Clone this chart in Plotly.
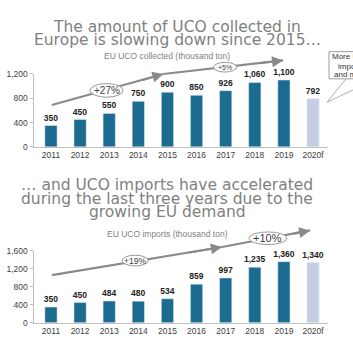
import plotly.graph_objects as go

years = ["2011", "2012", "2013", "2014", "2015", "2016", "2017", "2018", "2019", "2020f"]
collected = [350, 450, 550, 750, 900, 850, 926, 1060, 1100, 792]
imports = [350, 450, 484, 480, 534, 859, 997, 1235, 1360, 1340]
forecast = [False] * 9 + [True]

top_title = ["The amount of UCO collected in", "Europe is slowing down since 2015\u2026"]
bot_title = ["\u2026 and UCO imports have accelerated", "during the last three years due to the", "growing EU demand"]
top_sub = "EU UCO collected (thousand ton)"
bot_sub = "EU UCO imports (thousand ton)"
callout_lines = ["More UCO", "imports", "and more"]

# trend arrows in data units: (start_idx, start_val, end_idx, end_val)
top_arrows = [(0.03, 690, 3.86, 1200), (3.86, 1200, 7.97, 1424)]
bot_arrows = [(0.03, 1060, 5.87, 1686), (5.87, 1686, 8.9, 2054)]
# growth labels: (text, idx, val, half-width px, half-height px, font size)
top_growth = [("+27%", 1.91, 930, 16.5, 7, 10), ("+5%", 5.98, 1312, 11.5, 5, 7)]
bot_growth = [("+19%", 2.89, 1384, 13, 5.5, 8.5), ("+10%", 7.45, 1880, 19, 6.5, 11)]

W, H = 353, 354
def px(x):
    return x / W
def py(y):
    return 1 - y / H

MAIN = "#1c6b91"
FORE = "#c3cee2"
GRAY = "#7f7f7f"
FONT = "Liberation Sans, Arial, sans-serif"
TFONT = "DejaVu Sans, sans-serif"
idx = list(range(len(years)))
colors = [FORE if f else MAIN for f in forecast]

XR = [-0.6, 9.5]
xdom = [33.5 / W, 327.6 / W]
top_ydom, top_yr = [py(146), py(71)], 1200
bot_ydom, bot_yr = [py(327), py(253)], 1600

def to_paper(i, v, ydom, yr):
    x = xdom[0] + (i - XR[0]) / (XR[1] - XR[0]) * (xdom[1] - xdom[0])
    y = ydom[0] + v / yr * (ydom[1] - ydom[0])
    return x, y

fig = go.Figure()
for vals, xa, ya in [(collected, "x", "y"), (imports, "x2", "y2")]:
    fig.add_trace(go.Bar(x=idx, y=vals, marker_color=colors, width=0.42,
                         text=[f"{v:,}" for v in vals], textposition="outside",
                         textfont=dict(size=8.5, color="#222", family=FONT, weight="bold"),
                         cliponaxis=False, constraintext="none", xaxis=xa, yaxis=ya,
                         showlegend=False, hoverinfo="skip"))

xcommon = dict(range=XR, tickvals=idx, ticktext=years, showline=True,
               linecolor="#bfbfbf", linewidth=1, ticks="", showgrid=False, zeroline=False,
               tickfont=dict(size=8.5, color="#404040", family=FONT), fixedrange=True)
ycommon = dict(showline=True, linecolor="#bfbfbf", linewidth=1, ticks="outside", ticklen=3,
               tickcolor="#bfbfbf", showgrid=False, zeroline=False, tickformat=",",
               tickfont=dict(size=8.5, color="#404040", family=FONT), fixedrange=True)

fig.update_layout(
    width=W, height=H, margin=dict(l=0, r=0, t=0, b=0),
    paper_bgcolor="white", plot_bgcolor="white",
    xaxis=dict(domain=xdom, anchor="y", **xcommon),
    yaxis=dict(domain=top_ydom, range=[0, top_yr], tickvals=[0, 400, 800, 1200], anchor="x", **ycommon),
    xaxis2=dict(domain=xdom, anchor="y2", **xcommon),
    yaxis2=dict(domain=bot_ydom, range=[0, bot_yr], tickvals=[0, 400, 800, 1200, 1600], anchor="x2", **ycommon),
)

shapes = []
annotations = []

# titles
for text, y in zip(top_title, [23, 36.5]):
    annotations.append(dict(text=text, x=px(177), y=py(y), xref="paper", yref="paper",
                            showarrow=False, xanchor="center", yanchor="middle",
                            font=dict(size=15.5, color=GRAY, family=TFONT)))
for text, y in zip(bot_title, [185.5, 199.5, 213]):
    annotations.append(dict(text=text, x=px(167), y=py(y), xref="paper", yref="paper",
                            showarrow=False, xanchor="center", yanchor="middle",
                            font=dict(size=15.5, color=GRAY, family=TFONT)))
annotations.append(dict(text=top_sub, x=px(167), y=py(52), xref="paper", yref="paper",
                        showarrow=False, xanchor="center", yanchor="middle",
                        font=dict(size=8.5, color=GRAY, family=FONT)))
annotations.append(dict(text=bot_sub, x=px(167), y=py(236), xref="paper", yref="paper",
                        showarrow=False, xanchor="center", yanchor="middle",
                        font=dict(size=8.5, color=GRAY, family=FONT)))

def add_arrows(arrows, growth, ydom, yr):
    for (i0, v0, i1, v1) in arrows:
        x0, y0 = to_paper(i0, v0, ydom, yr)
        x1, y1 = to_paper(i1, v1, ydom, yr)
        shapes.append(dict(type="line", xref="paper", yref="paper", x0=x0, y0=y0, x1=x1, y1=y1,
                           line=dict(color="#8a8a8a", width=2.2), layer="above"))
        dxp = (x1 - x0) * W
        dyp = (y1 - y0) * H
        annotations.append(dict(text="", x=x1, y=y1, ax=-0.2 * dxp, ay=0.2 * dyp,
                                xref="paper", yref="paper", axref="pixel", ayref="pixel",
                                showarrow=True, arrowhead=2, arrowsize=1, arrowwidth=2.2,
                                arrowcolor="#8a8a8a", standoff=0, startstandoff=0))
    for (t, ci, cv, hw, hh, fs) in growth:
        cx, cy = to_paper(ci, cv, ydom, yr)
        shapes.append(dict(type="circle", xref="paper", yref="paper", x0=cx - hw / W, x1=cx + hw / W,
                           y0=cy - hh / H, y1=cy + hh / H, line=dict(color="#9a9a9a", width=1),
                           fillcolor="white", layer="above"))
        annotations.append(dict(text=t, x=cx, y=cy, xref="paper", yref="paper", showarrow=False,
                                xanchor="center", yanchor="middle",
                                font=dict(size=fs, color="#404040", family=FONT)))

add_arrows(top_arrows, top_growth, top_ydom, top_yr)
add_arrows(bot_arrows, bot_growth, bot_ydom, bot_yr)

# callout box on the right
shapes.append(dict(type="path", xref="paper", yref="paper",
                   path=f"M {px(346)} {py(76)} L {px(327)} {py(100)} L {px(360)} {py(84)}",
                   line=dict(color="#b0b0b0", width=1), fillcolor="white", layer="above"))
shapes.append(dict(type="rect", xref="paper", yref="paper", x0=px(329), x1=px(380),
                   y0=py(76), y1=py(48), line=dict(color="#9a9a9a", width=1),
                   fillcolor="white", layer="above"))
for text, y in zip(callout_lines, [53, 63, 72]):
    annotations.append(dict(text=text, x=px(351), y=py(y), xref="paper", yref="paper",
                            showarrow=False, xanchor="center", yanchor="middle",
                            font=dict(size=8, color="#333333", family=FONT)))

fig.update_layout(shapes=shapes, annotations=annotations)
fig.write_html("out.html")
